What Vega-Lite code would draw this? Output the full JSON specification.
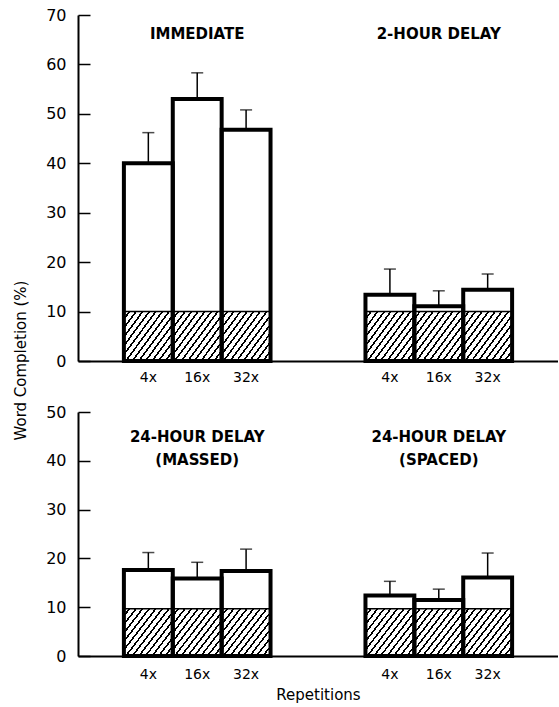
{
  "$schema": "https://vega.github.io/schema/vega-lite/v6.json",
  "padding": {"left": 13, "top": 7, "right": 0, "bottom": 4},
  "background": "white",
  "config": {
    "view": {"stroke": null},
    "font": "DejaVu Sans",
    "axis": {"domainColor": "black", "tickColor": "black", "labelColor": "black", "titleColor": "black", "grid": false, "labelFont": "DejaVu Sans", "titleFont": "DejaVu Sans"}
  },
  "datasets": {
    "top": [
      {"group": "IMMEDIATE", "rep": "4x", "value": 40.0, "err": 46.2, "base": 10},
      {"group": "IMMEDIATE", "rep": "16x", "value": 53.0, "err": 58.3, "base": 10},
      {"group": "IMMEDIATE", "rep": "32x", "value": 46.8, "err": 50.8, "base": 10},
      {"group": "2-HOUR DELAY", "rep": "4x", "value": 13.4, "err": 18.6, "base": 10},
      {"group": "2-HOUR DELAY", "rep": "16x", "value": 11.1, "err": 14.2, "base": 10},
      {"group": "2-HOUR DELAY", "rep": "32x", "value": 14.4, "err": 17.6, "base": 10}
    ],
    "bottom": [
      {"group": "MASSED", "rep": "4x", "value": 17.6, "err": 21.2, "base": 9.7},
      {"group": "MASSED", "rep": "16x", "value": 15.9, "err": 19.2, "base": 9.7},
      {"group": "MASSED", "rep": "32x", "value": 17.4, "err": 21.9, "base": 9.7},
      {"group": "SPACED", "rep": "4x", "value": 12.4, "err": 15.3, "base": 9.7},
      {"group": "SPACED", "rep": "16x", "value": 11.5, "err": 13.7, "base": 9.7},
      {"group": "SPACED", "rep": "32x", "value": 16.1, "err": 21.1, "base": 9.7}
    ],
    "topTitles": [
      {"group": "IMMEDIATE", "label": "IMMEDIATE"},
      {"group": "2-HOUR DELAY", "label": "2-HOUR DELAY"}
    ],
    "bottomTitles": [
      {"group": "MASSED", "label": "24-HOUR DELAY\n(MASSED)"},
      {"group": "SPACED", "label": "24-HOUR DELAY\n(SPACED)"}
    ]
  },
  "vconcat": [
    {
      "width": 480,
      "height": 346,
      "data": {"name": "top"},
      "encoding": {
        "x": {"field": "group", "type": "nominal", "scale": {"domain": ["IMMEDIATE", "2-HOUR DELAY"], "paddingInner": 0.393, "paddingOuter": 0.19}, "axis": {"title": null, "labels": false, "ticks": false, "domainWidth": 2}},
        "xOffset": {"field": "rep", "type": "nominal", "scale": {"domain": ["4x", "16x", "32x"], "paddingInner": 0, "paddingOuter": 0}}
      },
      "layer": [
        {
          "mark": {"type": "bar", "fill": "white", "stroke": null},
          "encoding": {
            "y": {"field": "value", "type": "quantitative", "scale": {"domain": [0, 70], "nice": false}, "axis": {"values": [0, 10, 20, 30, 40, 50, 60, 70], "tickSize": -12, "tickWidth": 1.5, "domainWidth": 2, "labelPadding": 24, "labelFontSize": 16, "title": "Word Completion (%)", "titleFontSize": 15, "titleFontWeight": "normal", "titleY": 345, "titlePadding": 17}}
          }
        },
        {
          "mark": {"type": "bar", "stroke": "black", "strokeWidth": 1.5,
            "fill": {"gradient": "linear", "x1": 0, "y1": 0, "x2": 1.12, "y2": 0.84, "stops": [
              {"offset": 0, "color": "white"}, {"offset": 0.0538, "color": "white"}, {"offset": 0.0538, "color": "black"}, {"offset": 0.0769, "color": "black"},
              {"offset": 0.0769, "color": "white"}, {"offset": 0.1308, "color": "white"}, {"offset": 0.1308, "color": "black"}, {"offset": 0.1538, "color": "black"},
              {"offset": 0.1538, "color": "white"}, {"offset": 0.2077, "color": "white"}, {"offset": 0.2077, "color": "black"}, {"offset": 0.2308, "color": "black"},
              {"offset": 0.2308, "color": "white"}, {"offset": 0.2846, "color": "white"}, {"offset": 0.2846, "color": "black"}, {"offset": 0.3077, "color": "black"},
              {"offset": 0.3077, "color": "white"}, {"offset": 0.3615, "color": "white"}, {"offset": 0.3615, "color": "black"}, {"offset": 0.3846, "color": "black"},
              {"offset": 0.3846, "color": "white"}, {"offset": 0.4385, "color": "white"}, {"offset": 0.4385, "color": "black"}, {"offset": 0.4615, "color": "black"},
              {"offset": 0.4615, "color": "white"}, {"offset": 0.5154, "color": "white"}, {"offset": 0.5154, "color": "black"}, {"offset": 0.5385, "color": "black"},
              {"offset": 0.5385, "color": "white"}, {"offset": 0.5923, "color": "white"}, {"offset": 0.5923, "color": "black"}, {"offset": 0.6154, "color": "black"},
              {"offset": 0.6154, "color": "white"}, {"offset": 0.6692, "color": "white"}, {"offset": 0.6692, "color": "black"}, {"offset": 0.6923, "color": "black"},
              {"offset": 0.6923, "color": "white"}, {"offset": 0.7462, "color": "white"}, {"offset": 0.7462, "color": "black"}, {"offset": 0.7692, "color": "black"},
              {"offset": 0.7692, "color": "white"}, {"offset": 0.8231, "color": "white"}, {"offset": 0.8231, "color": "black"}, {"offset": 0.8462, "color": "black"},
              {"offset": 0.8462, "color": "white"}, {"offset": 0.9, "color": "white"}, {"offset": 0.9, "color": "black"}, {"offset": 0.9231, "color": "black"},
              {"offset": 0.9231, "color": "white"}, {"offset": 0.9769, "color": "white"}, {"offset": 0.9769, "color": "black"}, {"offset": 1, "color": "black"}
            ]}},
          "encoding": {"y": {"field": "base", "type": "quantitative"}}
        },
        {
          "mark": {"type": "bar", "fill": "transparent", "stroke": "black", "strokeWidth": 4},
          "encoding": {"y": {"field": "value", "type": "quantitative"}}
        },
        {
          "mark": {"type": "rule", "stroke": "black", "strokeWidth": 1.5},
          "encoding": {"y": {"field": "value", "type": "quantitative"}, "y2": {"field": "err"}}
        },
        {
          "mark": {"type": "tick", "orient": "horizontal", "color": "black", "size": 12, "thickness": 1.5},
          "encoding": {"y": {"field": "err", "type": "quantitative"}}
        },
        {
          "mark": {"type": "text", "fontSize": 14, "baseline": "middle", "dy": 17, "color": "black"},
          "encoding": {"y": {"datum": 0}, "text": {"field": "rep"}}
        },
        {
          "data": {"name": "topTitles"},
          "mark": {"type": "text", "fontSize": 15, "fontWeight": "bold", "baseline": "middle", "color": "black"},
          "encoding": {"x": {"field": "group", "type": "nominal"}, "xOffset": null, "y": {"datum": 66.2}, "text": {"field": "label"}}
        }
      ]
    },
    {
      "width": 480,
      "height": 244,
      "data": {"name": "bottom"},
      "encoding": {
        "x": {"field": "group", "type": "nominal", "scale": {"domain": ["MASSED", "SPACED"], "paddingInner": 0.393, "paddingOuter": 0.19}, "axis": {"title": "Repetitions", "titleFontSize": 15, "titleFontWeight": "normal", "titlePadding": 31, "labels": false, "ticks": false, "domainWidth": 2}},
        "xOffset": {"field": "rep", "type": "nominal", "scale": {"domain": ["4x", "16x", "32x"], "paddingInner": 0, "paddingOuter": 0}}
      },
      "layer": [
        {
          "mark": {"type": "bar", "fill": "white", "stroke": null},
          "encoding": {
            "y": {"field": "value", "type": "quantitative", "scale": {"domain": [0, 50], "nice": false}, "axis": {"values": [0, 10, 20, 30, 40, 50], "tickSize": -12, "tickWidth": 1.5, "domainWidth": 2, "labelPadding": 24, "labelFontSize": 16, "title": null}}
          }
        },
        {
          "mark": {"type": "bar", "stroke": "black", "strokeWidth": 1.5,
            "fill": {"gradient": "linear", "x1": 0, "y1": 0, "x2": 1.12, "y2": 0.84, "stops": [
              {"offset": 0, "color": "white"}, {"offset": 0.0538, "color": "white"}, {"offset": 0.0538, "color": "black"}, {"offset": 0.0769, "color": "black"},
              {"offset": 0.0769, "color": "white"}, {"offset": 0.1308, "color": "white"}, {"offset": 0.1308, "color": "black"}, {"offset": 0.1538, "color": "black"},
              {"offset": 0.1538, "color": "white"}, {"offset": 0.2077, "color": "white"}, {"offset": 0.2077, "color": "black"}, {"offset": 0.2308, "color": "black"},
              {"offset": 0.2308, "color": "white"}, {"offset": 0.2846, "color": "white"}, {"offset": 0.2846, "color": "black"}, {"offset": 0.3077, "color": "black"},
              {"offset": 0.3077, "color": "white"}, {"offset": 0.3615, "color": "white"}, {"offset": 0.3615, "color": "black"}, {"offset": 0.3846, "color": "black"},
              {"offset": 0.3846, "color": "white"}, {"offset": 0.4385, "color": "white"}, {"offset": 0.4385, "color": "black"}, {"offset": 0.4615, "color": "black"},
              {"offset": 0.4615, "color": "white"}, {"offset": 0.5154, "color": "white"}, {"offset": 0.5154, "color": "black"}, {"offset": 0.5385, "color": "black"},
              {"offset": 0.5385, "color": "white"}, {"offset": 0.5923, "color": "white"}, {"offset": 0.5923, "color": "black"}, {"offset": 0.6154, "color": "black"},
              {"offset": 0.6154, "color": "white"}, {"offset": 0.6692, "color": "white"}, {"offset": 0.6692, "color": "black"}, {"offset": 0.6923, "color": "black"},
              {"offset": 0.6923, "color": "white"}, {"offset": 0.7462, "color": "white"}, {"offset": 0.7462, "color": "black"}, {"offset": 0.7692, "color": "black"},
              {"offset": 0.7692, "color": "white"}, {"offset": 0.8231, "color": "white"}, {"offset": 0.8231, "color": "black"}, {"offset": 0.8462, "color": "black"},
              {"offset": 0.8462, "color": "white"}, {"offset": 0.9, "color": "white"}, {"offset": 0.9, "color": "black"}, {"offset": 0.9231, "color": "black"},
              {"offset": 0.9231, "color": "white"}, {"offset": 0.9769, "color": "white"}, {"offset": 0.9769, "color": "black"}, {"offset": 1, "color": "black"}
            ]}},
          "encoding": {"y": {"field": "base", "type": "quantitative"}}
        },
        {
          "mark": {"type": "bar", "fill": "transparent", "stroke": "black", "strokeWidth": 4},
          "encoding": {"y": {"field": "value", "type": "quantitative"}}
        },
        {
          "mark": {"type": "rule", "stroke": "black", "strokeWidth": 1.5},
          "encoding": {"y": {"field": "value", "type": "quantitative"}, "y2": {"field": "err"}}
        },
        {
          "mark": {"type": "tick", "orient": "horizontal", "color": "black", "size": 12, "thickness": 1.5},
          "encoding": {"y": {"field": "err", "type": "quantitative"}}
        },
        {
          "mark": {"type": "text", "fontSize": 14, "baseline": "middle", "dy": 19, "color": "black"},
          "encoding": {"y": {"datum": 0}, "text": {"field": "rep"}}
        },
        {
          "data": {"name": "bottomTitles"},
          "mark": {"type": "text", "fontSize": 15, "fontWeight": "bold", "baseline": "top", "lineBreak": "\n", "lineHeight": 23, "color": "black"},
          "encoding": {"x": {"field": "group", "type": "nominal"}, "xOffset": null, "y": {"datum": 46.3}, "text": {"field": "label"}}
        }
      ]
    }
  ],
  "spacing": 51,
  "bounds": "flush"
}
